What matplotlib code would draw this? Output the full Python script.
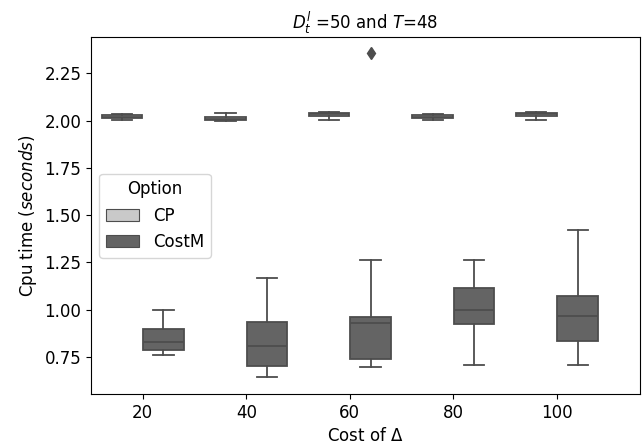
import matplotlib
matplotlib.use('Agg')
import matplotlib.pyplot as plt
from matplotlib.patches import Patch

# --- data ---
categories = ["20", "40", "60", "80", "100"]

cp_low = [2.005, 1.995, 2.005, 2.005, 2.005]
cp_q1 = [2.013, 2.003, 2.025, 2.012, 2.025]
cp_med = [2.020, 2.010, 2.032, 2.020, 2.032]
cp_q3 = [2.030, 2.020, 2.042, 2.030, 2.042]
cp_high = [2.032, 2.040, 2.045, 2.035, 2.045]

costm_low = [0.76, 0.646, 0.70, 0.71, 0.71]
costm_q1 = [0.785, 0.705, 0.74, 0.925, 0.835]
costm_med = [0.83, 0.81, 0.928, 1.00, 0.967]
costm_q3 = [0.898, 0.933, 0.96, 1.113, 1.073]
costm_high = [1.00, 1.166, 1.263, 1.263, 1.42]
costm_fliers = [[], [], [2.356], [], []]

cp_color = "#c9c9c9"
costm_color = "#646464"
line_color = "#4d4d4d"
fs = 12


def make_stats(low, q1, med, q3, high, fliers=None):
    stats = []
    for i in range(len(low)):
        stats.append({
            "whislo": low[i], "q1": q1[i], "med": med[i],
            "q3": q3[i], "whishi": high[i],
            "fliers": fliers[i] if fliers else [],
        })
    return stats


fig = plt.figure(figsize=(6.43, 4.47), dpi=100)
ax = fig.add_axes([0.1415, 0.1186, 0.8535, 0.798])

pos = list(range(len(categories)))
w = 0.392

for stats, off, col in [
    (make_stats(cp_low, cp_q1, cp_med, cp_q3, cp_high), -0.2, cp_color),
    (make_stats(costm_low, costm_q1, costm_med, costm_q3, costm_high, costm_fliers), 0.2, costm_color),
]:
    ax.bxp(stats, positions=[p + off for p in pos], widths=w, patch_artist=True,
           boxprops=dict(facecolor=col, edgecolor=line_color, linewidth=1.3),
           whiskerprops=dict(color=line_color, linewidth=1.3),
           capprops=dict(color=line_color, linewidth=1.3),
           medianprops=dict(color=line_color, linewidth=1.3),
           flierprops=dict(marker='d', markerfacecolor=line_color,
                           markeredgecolor=line_color, markersize=6),
           capwidths=w / 2)

ax.set_xticks(pos)
ax.set_xticklabels(categories)
ax.set_xlim(-0.5, 4.8)
ax.set_ylim(0.555, 2.44)
ax.set_yticks([0.75, 1.00, 1.25, 1.50, 1.75, 2.00, 2.25])
ax.set_yticklabels(["0.75", "1.00", "1.25", "1.50", "1.75", "2.00", "2.25"])

ax.set_title(r"$D^{l}_{t}$ =50 and $T$=48", fontsize=fs)
ax.set_xlabel(r"Cost of $\Delta$", fontsize=fs)
ax.set_ylabel(r"Cpu time ($seconds$)", fontsize=fs)
ax.tick_params(labelsize=fs)

handles = [Patch(facecolor=cp_color, edgecolor=line_color, linewidth=0.8, label="CP"),
           Patch(facecolor=costm_color, edgecolor=line_color, linewidth=0.8, label="CostM")]
ax.legend(handles=handles, title="Option", loc="center left", fontsize=fs,
          title_fontsize=fs)

fig.savefig("out.png", dpi=100)
